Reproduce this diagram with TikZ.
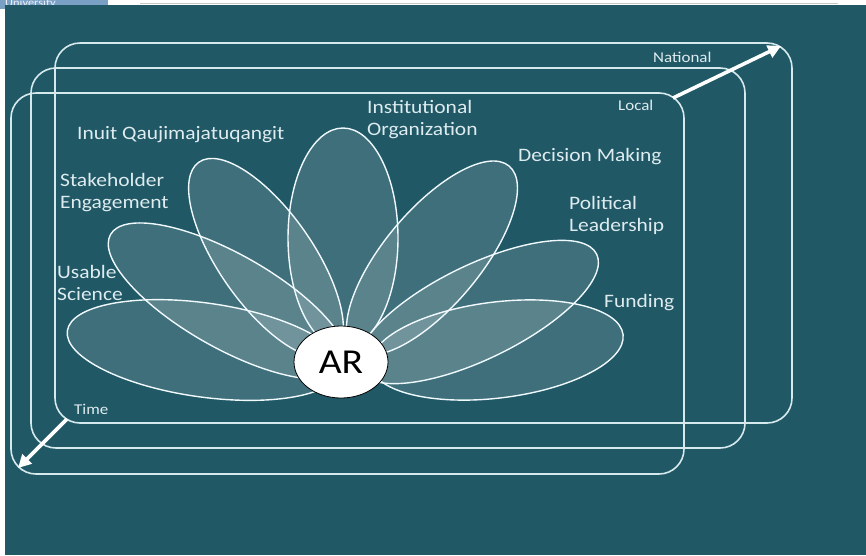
\documentclass[tikz,border=0pt]{standalone}
\usepackage{fontspec}
\setmainfont{Carlito}[FakeStretch=1.13]
\usetikzlibrary{shapes.geometric,arrows.meta}
\definecolor{bgteal}{RGB}{32,88,101}
\definecolor{boxline}{RGB}{214,234,238}
\definecolor{unipatch}{RGB}{122,160,198}
\definecolor{txt}{RGB}{222,236,240}
\begin{document}
\begin{tikzpicture}[x=1pt,y=1pt,
  frame/.style={draw=boxline, line width=1.6pt, rounded corners=25pt},
  petal/.style={ellipse, draw=white!94!cyan, line width=1.4pt, fill=white, fill opacity=0.14, inner sep=0pt, outer sep=0pt},
  lbl/.style={text=txt, font=\fontsize{19}{22}\selectfont, align=left, inner sep=0pt, anchor=west},
  smalllbl/.style={text=txt, font=\fontsize{15}{17}\selectfont, inner sep=0pt, anchor=west},
  bigarrow/.style={draw=white, line width=3.6pt, -{Triangle[length=13pt,width=13pt]}}
]
\useasboundingbox (0,0) rectangle (866,-555);
% page background and header remnants
\fill[white] (0,0) rectangle (866,-555);
\fill[unipatch] (0,0) rectangle (108,-9);
\begin{scope}
  \clip (0,0) rectangle (108,-9);
  \node[anchor=base west, inner sep=0pt, text=white!85!unipatch, font=\fontsize{11}{12}\selectfont] (uni) at (5,-6) {University};
\end{scope}
\fill[bgteal] (5,-5) rectangle (866,-555);
\draw[black!22, line width=1pt] (140,-3.5) -- (838,-3.5);

% nested frames
\draw[frame] (55,-43) rectangle (792,-423);
\draw[frame] (31,-68) rectangle (745,-448);
\draw[frame] (11,-93) rectangle (684,-474);

% petals
\node[petal, minimum width=276pt, minimum height=94pt, rotate=-8]   (usable)  at (204,-350) {};
\node[petal, minimum width=254pt, minimum height=96pt, rotate=7]    (funding) at (497,-350) {};
\node[petal, minimum width=270pt, minimum height=94pt, rotate=-29.5](stake)   at (228,-301) {};
\node[petal, minimum width=234pt, minimum height=94pt, rotate=-55]  (inuit)   at (266,-258) {};
\node[petal, minimum width=220pt, minimum height=110pt, rotate=90]  (inst)    at (343,-238) {};
\node[petal, minimum width=240pt, minimum height=96pt, rotate=50]   (decis)   at (432,-258) {};
\node[petal, minimum width=264pt, minimum height=94pt, rotate=26]   (polit)   at (478,-312) {};

% centre
\node[ellipse, draw=black, line width=0.8pt, fill=white, minimum width=94pt, minimum height=72pt, inner sep=0pt, font=\fontsize{35}{38}\selectfont] (ar) at (341,-362) {AR};

% labels
\node[lbl] (linst)  at (367,-120) {Institutional\\Organization};
\node[lbl] (linuit) at (77,-135) {Inuit Qaujimajatuqangit};
\node[lbl] (ldec)   at (518,-157) {Decision Making};
\node[lbl] (lstake) at (60,-193) {Stakeholder\\Engagement};
\node[lbl] (lpol)   at (569,-215) {Political\\Leadership};
\node[lbl] (luse)   at (57,-283) {Usable\\Science};
\node[lbl] (lfund)  at (604,-303) {Funding};

\node[smalllbl] (lnat)   at (653,-57) {National};
\node[smalllbl] (lloc)   at (618,-105) {Local};
\node[smalllbl] (ltime)  at (74,-409) {Time};

% arrows
\coordinate (natstart) at (673,-98);
\coordinate (natend) at (781,-46);
\coordinate (timestart) at (67,-419);
\coordinate (timeend) at (18,-468);
\draw[bigarrow] (natstart) -- (natend);
\draw[bigarrow] (timestart) -- (timeend);
\end{tikzpicture}
\end{document}
